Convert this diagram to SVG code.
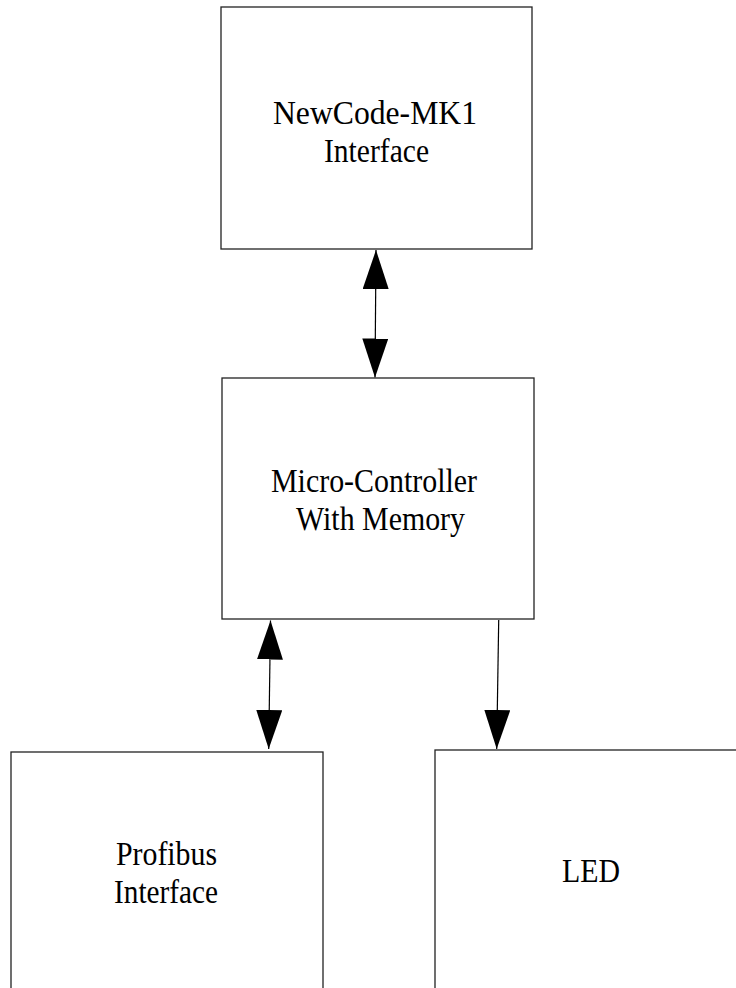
<svg xmlns="http://www.w3.org/2000/svg" width="736" height="988" viewBox="0 0 736 988">
<style>
.box{fill:#fff;stroke:#222;stroke-width:1.3}
.lbl{font-family:"Liberation Serif","Times New Roman",serif;font-size:34px;fill:#000;text-anchor:middle}
.conn{stroke:#000;stroke-width:1.2;fill:none}
</style>
<defs>
<marker id="ah" viewBox="0 0 39 26" refX="39" refY="13" markerWidth="39" markerHeight="26" markerUnits="userSpaceOnUse" orient="auto-start-reverse">
<path d="M0,0 L39,13 L0,26 Z" fill="#000"/>
</marker>
</defs>
<rect width="736" height="988" fill="#fff"/>
<g id="connectors">
<line class="conn" x1="376" y1="250" x2="375" y2="377.5" marker-start="url(#ah)" marker-end="url(#ah)"/>
<line class="conn" x1="270.5" y1="620.5" x2="268.7" y2="749" marker-start="url(#ah)" marker-end="url(#ah)"/>
<line class="conn" x1="498.7" y1="620" x2="496.7" y2="749" marker-end="url(#ah)"/>
</g>
<g id="newcode">
<rect class="box" x="221" y="7" width="311" height="242"/>
<text class="lbl" x="375" y="124" textLength="204" lengthAdjust="spacingAndGlyphs">NewCode-MK1</text>
<text class="lbl" x="376.5" y="162" textLength="105" lengthAdjust="spacingAndGlyphs">Interface</text>
</g>
<g id="micro">
<rect class="box" x="222" y="378" width="312" height="241"/>
<text class="lbl" x="374" y="492" textLength="206" lengthAdjust="spacingAndGlyphs">Micro-Controller</text>
<text class="lbl" x="380.5" y="530" textLength="169" lengthAdjust="spacingAndGlyphs">With Memory</text>
</g>
<g id="profibus">
<rect class="box" x="11" y="752" width="312" height="242"/>
<text class="lbl" x="166.5" y="865" textLength="101" lengthAdjust="spacingAndGlyphs">Profibus</text>
<text class="lbl" x="166" y="903" textLength="104" lengthAdjust="spacingAndGlyphs">Interface</text>
</g>
<g id="led">
<rect class="box" x="435" y="750" width="312" height="244"/>
<text class="lbl" x="591" y="882" textLength="58" lengthAdjust="spacingAndGlyphs">LED</text>
</g>
</svg>
